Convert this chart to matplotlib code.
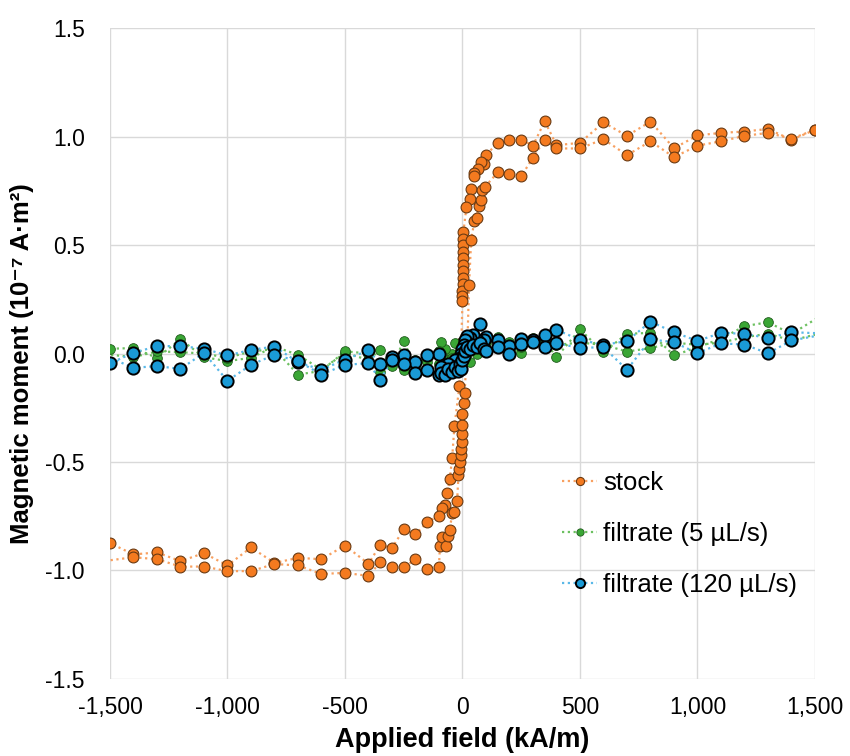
import matplotlib
matplotlib.use("Agg")
import matplotlib.pyplot as plt
from matplotlib.ticker import FuncFormatter, MultipleLocator

plt.rcParams['font.family'] = ['Liberation Sans', 'DejaVu Sans']
plt.rcParams['axes.unicode_minus'] = False

# stock: descending branch then ascending branch (kA/m, 1e-7 A m^2)
stock_field_down = [1500, 1400, 1300, 1200, 1100, 1000, 900, 800, 700, 600, 500, 400, 350, 300, 250, 200, 150, 100,
                    90, 77, 64, 51, 47, 37, 30, 17, 4, 3, 3, 2, 2, 2, 1, 1, 1, 0, 0, 0, -5, -13,
                    -34, -44, -54, -65, -75, -89, -100, -150, -200, -250, -300, -350, -400, -500, -600, -700,
                    -800, -900, -1000, -1100, -1200, -1300, -1400, -1500]
stock_moment_down = [1.031, 0.985, 1.035, 1.023, 1.017, 1.005, 0.946, 1.069, 1.003, 1.065, 0.971, 0.960, 1.071, 0.958,
                     0.986, 0.982, 0.969, 0.916, 0.874, 0.882, 0.851, 0.830, 0.819, 0.756, 0.711, 0.677, 0.56, 0.53,
                     0.50, 0.47, 0.44, 0.41, 0.38, 0.35, 0.32, 0.29, 0.265, 0.244, 0.05, -0.15, -0.332, -0.481,
                     -0.578, -0.645, -0.70, -0.713, -0.747, -0.777, -0.834, -0.811, -0.896, -0.882, -0.969, -0.885,
                     -0.948, -0.942, -0.965, -0.894, -0.977, -0.920, -0.957, -0.917, -0.926, -0.874]
stock_field_up = [-1550, -1400, -1300, -1200, -1100, -1000, -900, -800, -700, -600, -500, -400, -350, -300, -250,
                  -200, -150, -100, -96, -86, -72, -61, -54, -44, -34, -23, -17, -14, -11, -8, -6, -4, -2, 0, 0,
                  5, 9, 21, 28, 37, 51, 60, 69, 80, 84, 95, 150, 200, 250, 300, 350, 400, 500, 600, 700, 800,
                  900, 1000, 1100, 1200, 1300, 1400, 1500]
stock_moment_up = [-0.96, -0.939, -0.948, -0.982, -0.982, -1.003, -1.003, -0.97, -0.977, -1.016, -1.011, -1.025,
                   -0.962, -0.985, -0.985, -0.949, -0.992, -0.982, -0.885, -0.846, -0.889, -0.843, -0.813, -0.737,
                   -0.731, -0.682, -0.56, -0.53, -0.50, -0.47, -0.44, -0.41, -0.37, -0.33, -0.28, -0.23, -0.183,
                   0.05, 0.316, 0.524, 0.613, 0.624, 0.682, 0.708, 0.754, 0.767, 0.835, 0.828, 0.817, 0.903,
                   0.985, 0.945, 0.945, 0.988, 0.914, 0.978, 0.905, 0.958, 0.978, 1.003, 1.017, 0.99, 1.031]

# filtrates share the same field sequence
filt_field_down = [1550, 1400, 1300, 1200, 1100, 1000, 900, 800, 700, 600, 500, 400, 350, 300, 250, 200, 150, 100,
                   90, 75, 60, 45, 30, 20, 10, 5, 0, -5, -10, -20, -30, -45, -60, -75, -90,
                   -100, -150, -200, -250, -300, -350, -400, -500, -600, -700, -800, -900, -1000, -1100, -1200,
                   -1300, -1400, -1500]
filt_field_up = [-1550] + [-f for f in filt_field_down[1:-1]] + [1550]

f5_down = [0.190, 0.090, 0.144, 0.126, 0.068, 0.029, -0.009, 0.095, 0.091, 0.006, 0.111, -0.017, 0.060, 0.071,
           0.001, 0.052, 0.075, 0.050,
           0.04, 0.06, 0.03, 0.05, 0.07, 0.02, 0.04, 0.01, 0.05, 0.0, 0.03, -0.02, 0.047, 0.0, -0.03, 0.02, 0.052,
           0.01, -0.02, -0.063, 0.057, -0.058, 0.017, -0.030, 0.003, -0.075, -0.006, 0.032, -0.020, -0.035,
           -0.017, 0.065, -0.020, 0.025, 0.022]
f5_up = [0.000, -0.017, 0.010, 0.006, 0.000, -0.020, 0.010, 0.020, -0.097, -0.080, 0.010, 0.000, -0.086, -0.020,
         -0.075, -0.030, -0.040, -0.050,
         -0.06, -0.03, -0.07, -0.02, -0.05, -0.04, 0.0, -0.06, -0.04, 0.02, -0.04, 0.01, -0.04, 0.03, 0.0, 0.04, 0.02,
         0.010, 0.050, -0.009, 0.030, 0.060, 0.050, 0.040, 0.050, 0.040, 0.009, 0.025, 0.050, 0.040, 0.050,
         0.075, 0.091, 0.060, 0.100]

f120_down = [0.092, 0.098, 0.071, 0.091, 0.095, 0.058, 0.098, 0.147, 0.057, 0.040, 0.063, 0.109, 0.083, 0.063,
             0.065, 0.034, 0.063, 0.075,
             0.06, 0.137, 0.06, 0.085, 0.07, 0.08, 0.06, 0.04, 0.02, 0.0, -0.02, -0.05, -0.03, -0.06, -0.05,
             -0.08, -0.06,
             -0.002, -0.009, -0.037, -0.006, -0.014, -0.048, 0.014, -0.028, -0.075, -0.040, 0.032, 0.017, -0.009,
             0.022, 0.034, 0.034, 0.003, -0.045]
f120_up = [0.003, -0.066, -0.058, -0.071, 0.003, -0.126, -0.052, -0.006, -0.035, -0.097, -0.052, -0.045, -0.121,
           -0.030, -0.048, -0.091, -0.078, -0.101,
           -0.09, -0.10, -0.07, -0.085, -0.06, -0.08, -0.05, -0.07, -0.03, -0.01, 0.01, 0.03, 0.02, 0.04, 0.03,
           0.05, 0.02,
           0.010, 0.029, -0.002, 0.045, 0.055, 0.029, 0.047, 0.026, 0.029, -0.075, 0.065, 0.052, 0.001, 0.047,
           0.041, 0.001, 0.060, 0.090]

fig = plt.figure(figsize=(8.5, 7.56), dpi=100)
ax = fig.add_axes([0.1294, 0.1019, 0.8294, 0.861])

dots = (0, (1, 1.6))
ax.plot(stock_field_down + stock_field_up, stock_moment_down + stock_moment_up,
        linestyle=dots, lw=1.6, color='#f8a060', marker='o', ms=7.8,
        mfc='#f47a1f', mec='#6a3a12', mew=0.8, label='stock')
ax.plot(filt_field_down + filt_field_up, f5_down + f5_up,
        linestyle=dots, lw=1.6, color='#6cc060', marker='o', ms=7.0,
        mfc='#3aa635', mec='#1f5a1c', mew=0.6, label='filtrate (5 µL/s)')
ax.plot(filt_field_down + filt_field_up, f120_down + f120_up,
        linestyle=dots, lw=1.6, color='#5ab8e8', marker='o', ms=8.8,
        mfc='#1a9ad6', mec='black', mew=1.4, label='filtrate (120 µL/s)')

ax.set_xlim(-1500, 1500)
ax.set_ylim(-1.5, 1.5)
ax.xaxis.set_major_locator(MultipleLocator(500))
ax.yaxis.set_major_locator(MultipleLocator(0.5))
ax.xaxis.set_major_formatter(FuncFormatter(lambda v, p: f'{int(v):,}'))
ax.yaxis.set_major_formatter(FuncFormatter(lambda v, p: f'{v:.1f}'))
ax.grid(True, color='#d9d9d9', lw=1.0)
ax.set_axisbelow(True)
for s in ax.spines.values():
    s.set_visible(False)
ax.tick_params(length=0, labelsize=16.5, colors='black')
ax.tick_params(axis='x', pad=12)
ax.tick_params(axis='y', pad=18)

ax.set_xlabel('Applied field (kA/m)', fontsize=19.5, fontweight='bold', labelpad=6)
ax.set_ylabel('Magnetic moment (10⁻⁷ A·m²)', fontsize=18.5, fontweight='bold')
ax.yaxis.set_label_coords(-0.108, 0.485)

ax.legend(loc='upper left', bbox_to_anchor=(0.6085, 0.355), frameon=False, fontsize=18.5,
          handlelength=1.36, markerscale=0.75, labelspacing=1.06, handletextpad=0.25)

fig.savefig('out.png', dpi=100)
